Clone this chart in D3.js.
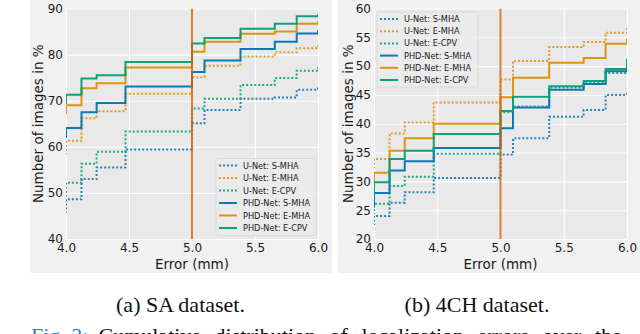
<!DOCTYPE html>
<html><head><meta charset="utf-8">
<script src="https://cdn.jsdelivr.net/npm/d3@7"></script>
<style>
html,body{margin:0;padding:0;background:#fff;overflow:hidden;}
svg{display:block;}
</style>
</head><body>
<svg id="fig" width="640" height="334"></svg>
<script>
// ---- data ----
const errorSteps = [3.606, 4.0, 4.123, 4.243, 4.472, 5.0, 5.099, 5.385, 5.657, 5.831, 6.0, 6.083];
const seriesNames = ["U-Net: S-MHA", "U-Net: E-MHA", "U-Net: E-CPV", "PHD-Net: S-MHA", "PHD-Net: E-MHA", "PHD-Net: E-CPV"];
const xTicks = [4.0, 4.5, 5.0, 5.5, 6.0];
const thresholdMm = 5.0;

// SA dataset
const saUnetSMHA = [45.9, 48.6, 53.0, 55.5, 59.4, 65.1, 68.0, 70.4, 70.7, 72.4, 73.0, 73.0];
const saUnetEMHA = [58.6, 61.3, 66.2, 67.7, 71.5, 75.1, 77.6, 79.6, 80.5, 81.4, 81.9, 81.9];
const saUnetECPV = [49.5, 52.2, 56.3, 58.9, 63.3, 68.3, 70.4, 73.4, 74.9, 76.5, 77.1, 77.1];
const saPhdSMHA  = [62.2, 64.1, 67.5, 69.5, 73.1, 76.2, 78.7, 81.2, 82.8, 84.6, 85.1, 85.1];
const saPhdEMHA  = [67.3, 69.0, 72.7, 73.8, 77.2, 80.6, 82.8, 84.5, 85.0, 86.7, 87.0, 87.0];
const saPhdECPV  = [69.5, 71.3, 74.8, 75.5, 78.4, 82.4, 83.6, 85.6, 86.7, 88.3, 88.6, 88.6];
const saYTicks = [40, 50, 60, 70, 80, 90];

// 4CH dataset
const chUnetSMHA = [22.6, 24.0, 26.3, 28.1, 30.6, 34.65, 37.5, 41.2, 42.4, 45.0, 45.7, 45.7];
const chUnetEMHA = [32.5, 33.9, 38.3, 40.2, 43.7, 47.7, 50.9, 53.3, 54.2, 55.8, 56.8, 56.8];
const chUnetECPV = [24.5, 26.1, 29.2, 30.8, 34.8, 42.0, 43.0, 46.3, 47.2, 48.8, 49.7, 49.7];
const chPhdSMHA  = [25.6, 28.0, 31.9, 33.5, 35.8, 39.2, 42.8, 45.9, 46.9, 49.1, 49.5, 49.5];
const chPhdEMHA  = [30.0, 31.5, 35.3, 37.5, 40.0, 44.6, 48.0, 50.6, 51.4, 53.9, 54.6, 54.6];
const chPhdECPV  = [28.0, 29.85, 33.9, 35.3, 38.2, 42.2, 44.7, 46.5, 47.4, 49.5, 51.1, 51.1];
const chYTicks = [20, 25, 30, 35, 40, 45, 50, 55, 60];

// ---- style ----
const colors = ["#0173B2", "#DE8F05", "#029E73", "#0173B2", "#DE8F05", "#029E73"];
const dotted = [true, true, true, false, false, false];
const vlineColor = "#D55E00";
const sans = "'DejaVu Sans', sans-serif";
const serif = "'Liberation Serif', 'Times New Roman', serif";

const svg = d3.select("#fig");

// panel backgrounds
svg.append("rect").attr("x", 30).attr("y", 0).attr("width", 302).attr("height", 273).attr("fill", "#f1f1f1");
svg.append("rect").attr("x", 338).attr("y", 0).attr("width", 302).attr("height", 273).attr("fill", "#f1f1f1");

function drawPanel(cfg) {
  const x = d3.scaleLinear().domain([4, 6]).range([cfg.x0, cfg.x1]);
  const y = d3.scaleLinear().domain(cfg.yDomain).range([cfg.y1, cfg.y0]);
  const g = svg.append("g");
  const clipId = "clip" + cfg.id;
  svg.append("defs").append("clipPath").attr("id", clipId)
    .append("rect").attr("x", cfg.x0).attr("y", cfg.y0)
    .attr("width", cfg.x1 - cfg.x0).attr("height", cfg.y1 - cfg.y0);

  g.append("rect").attr("x", cfg.x0).attr("y", cfg.y0)
    .attr("width", cfg.x1 - cfg.x0).attr("height", cfg.y1 - cfg.y0).attr("fill", "#e9e9e9");

  // y axis + grid
  const ya = g.append("g").attr("transform", `translate(${cfg.x0},0)`)
    .call(d3.axisLeft(y).tickValues(cfg.yTicks).tickFormat(d3.format("d"))
      .tickSizeInner(-(cfg.x1 - cfg.x0)).tickSizeOuter(0).tickPadding(3));
  ya.select(".domain").remove();
  ya.selectAll("line").attr("stroke", "#fff").attr("stroke-width", 1.1);
  ya.selectAll("text").attr("font-family", sans).attr("font-size", 12).attr("fill", "#1a1a1a");

  // x axis + grid
  const xa = g.append("g").attr("transform", `translate(0,${cfg.y1})`)
    .call(d3.axisBottom(x).tickValues(xTicks).tickFormat(d3.format(".1f"))
      .tickSizeInner(-(cfg.y1 - cfg.y0)).tickSizeOuter(0).tickPadding(4.5));
  xa.select(".domain").remove();
  xa.selectAll("line").attr("stroke", "#fff").attr("stroke-width", 1.1);
  xa.selectAll("text").attr("font-family", sans).attr("font-size", 12).attr("fill", "#1a1a1a");

  // lines
  const line = d3.line().x((d, i) => x(errorSteps[i])).y(d => y(d)).curve(d3.curveStepAfter);
  const lg = g.append("g").attr("clip-path", `url(#${clipId})`);
  cfg.series.forEach((s, k) => {
    lg.append("path").datum(s).attr("d", line)
      .attr("fill", "none").attr("stroke", colors[k])
      .attr("stroke-width", 2)
      .attr("stroke-dasharray", dotted[k] ? "2,2" : null)
      .attr("opacity", dotted[k] ? 0.85 : 0.95);
  });
  // threshold line
  lg.append("line").attr("x1", x(thresholdMm)).attr("x2", x(thresholdMm))
    .attr("y1", cfg.y0).attr("y2", cfg.y1)
    .attr("stroke", vlineColor).attr("stroke-width", 2).attr("opacity", 0.8);

  // axis labels
  g.append("text").attr("x", (cfg.x0 + cfg.x1) / 2).attr("y", 269)
    .attr("text-anchor", "middle").attr("font-family", sans).attr("font-size", 13.5)
    .attr("fill", "#1a1a1a").text("Error (mm)");
  g.append("text").attr("transform", `translate(${cfg.ylabX},${(cfg.y0 + cfg.y1) / 2}) rotate(-90)`)
    .attr("text-anchor", "middle").attr("font-family", sans).attr("font-size", 13.5)
    .attr("fill", "#1a1a1a").text("Number of images in %");

  // legend
  const L = cfg.legend;
  const leg = g.append("g");
  leg.append("rect").attr("x", L.x).attr("y", L.y).attr("width", L.w).attr("height", L.h)
    .attr("rx", 2).attr("fill", "#ebebeb").attr("fill-opacity", 0.85)
    .attr("stroke", "#d6d6d6").attr("stroke-width", 0.8);
  seriesNames.forEach((name, k) => {
    const cy = L.rowY + k * L.rowH;
    leg.append("line").attr("x1", L.x + 3).attr("x2", L.x + 21).attr("y1", cy).attr("y2", cy)
      .attr("stroke", colors[k]).attr("stroke-width", 2)
      .attr("stroke-dasharray", dotted[k] ? "2,2" : null)
      .attr("opacity", dotted[k] ? 0.85 : 0.95);
    leg.append("text").attr("x", L.x + 27).attr("y", cy + 3)
      .attr("font-family", sans).attr("font-size", 8.2).attr("fill", "#1a1a1a").text(name);
  });

  // caption
  svg.append("text").attr("x", cfg.capX).attr("y", 312).attr("text-anchor", "middle")
    .attr("font-family", serif).attr("font-size", 22).attr("fill", "#111").text(cfg.caption);
}

drawPanel({
  id: "sa", x0: 66, x1: 318, y0: 8.5, y1: 239, yDomain: [40, 90], yTicks: saYTicks,
  series: [saUnetSMHA, saUnetEMHA, saUnetECPV, saPhdSMHA, saPhdEMHA, saPhdECPV],
  ylabX: 43, capX: 180.5, caption: "(a) SA dataset.",
  legend: { x: 216, y: 158.5, w: 100, h: 77, rowY: 165.5, rowH: 12.5 }
});
drawPanel({
  id: "ch", x0: 374, x1: 627, y0: 8.5, y1: 239, yDomain: [20, 60], yTicks: chYTicks,
  series: [chUnetSMHA, chUnetEMHA, chUnetECPV, chPhdSMHA, chPhdEMHA, chPhdECPV],
  ylabX: 353, capX: 477, caption: "(b) 4CH dataset.",
  legend: { x: 377, y: 12, w: 101, h: 75, rowY: 19, rowH: 12.2 }
});

// figure caption (cut off at bottom, justified line)
const fc = svg.append("text").attr("x", 31).attr("y", 343)
  .attr("font-family", serif).attr("font-size", 22).attr("fill", "#111");
fc.append("tspan").attr("fill", "#2f7fc1").text("Fig. 3:");
fc.append("tspan").attr("dx", 10).attr("word-spacing", 8)
  .text("Cumulative distribution of localization errors over the");
</script>
</body></html>
